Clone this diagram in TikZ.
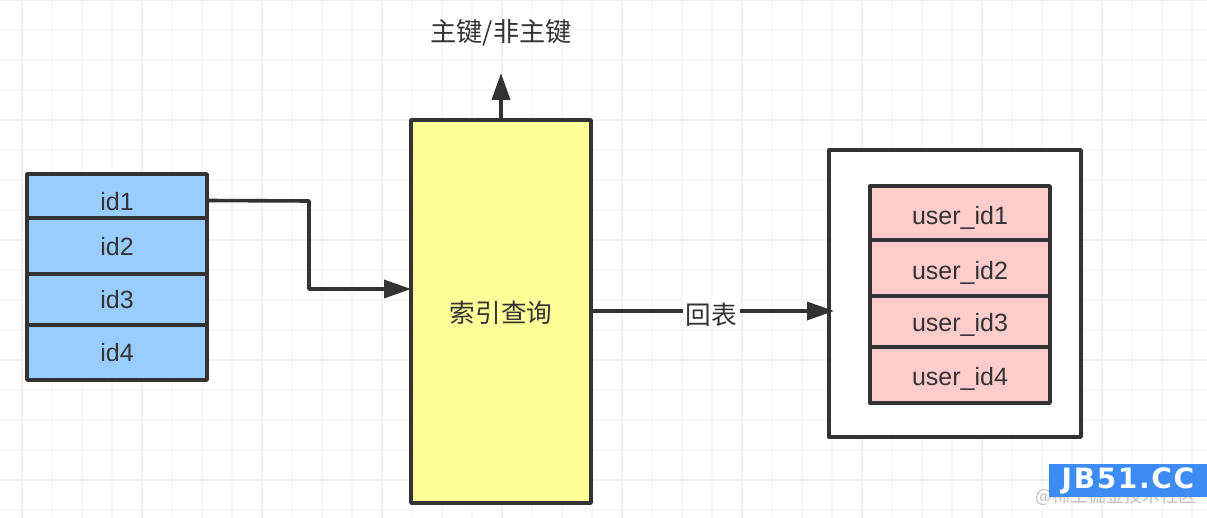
\documentclass[tikz,border=0pt]{standalone}
\usepackage{fontspec}
\setmainfont{Liberation Sans}
\newfontfamily\cjk{Noto Sans CJK SC}
\newfontfamily\wmfont[LetterSpace=6]{DejaVu Sans}
\usetikzlibrary{arrows.meta,calc}
\definecolor{ink}{HTML}{333333}
\definecolor{cellblue}{HTML}{99CCFF}
\definecolor{cellpink}{HTML}{FFCCCC}
\definecolor{midyellow}{HTML}{FFFF99}
\definecolor{gridminor}{HTML}{F7F7F7}
\definecolor{gridmajor}{HTML}{F0F0F0}
\definecolor{wmblue}{HTML}{3D8BF5}
\tikzset{
  x=1pt,y=-1pt,
  cell/.style={draw=ink,line width=3.4pt,line join=round,inner sep=0pt,outer sep=0pt,text=ink,font=\fontsize{25}{25}\selectfont,minimum width=180pt,text depth=0pt,text height=18pt},
  bluecell/.style={cell,fill=cellblue},
  pinkcell/.style={cell,fill=cellpink,text height=24pt},
  midbox/.style={draw=ink,line width=3.4pt,line join=round,fill=midyellow,inner sep=0pt,outer sep=0pt,minimum width=180pt,minimum height=383pt,text=ink,font=\cjk\fontsize{25.6}{26}\selectfont,text height=22pt,text depth=0pt},
  outerbox/.style={draw=ink,line width=3.4pt,line join=round,fill=white,inner sep=0pt,outer sep=0pt,minimum width=252pt,minimum height=287pt},
  conn/.style={draw=ink,line width=3.6pt,line join=round,-{Triangle[length=27pt,width=18pt]}},
  cjklabel/.style={text=ink,inner sep=0pt,font=\cjk\fontsize{26.2}{27}\selectfont},
}
\begin{document}
\begin{tikzpicture}
\useasboundingbox (0,0) rectangle (1207,518);
\fill[white] (0,0) rectangle (1207,518);
% grid
\foreach \gx in {22,52,...,1207} \draw[gridminor,line width=1.5pt] (\gx,0) -- (\gx,518);
\foreach \gy in {0,30,...,518} \draw[gridminor,line width=1.5pt] (0,\gy) -- (1207,\gy);
\foreach \gx in {22,142,...,1207} \draw[gridmajor,line width=2.5pt] (\gx,0) -- (\gx,518);
\foreach \gy in {0,120,...,518} \draw[gridmajor,line width=2.5pt] (0,\gy) -- (1207,\gy);
% left stack
\node[bluecell,minimum height=44pt,text height=30pt] (id1) at (117,196) {id1};
\node[bluecell,minimum height=56pt,text height=20pt] (id2) at (117,246) {id2};
\node[bluecell,minimum height=51pt] (id3) at (117,299.5) {id3};
\node[bluecell,minimum height=55pt] (id4) at (117,352.5) {id4};
% middle
\node[midbox] (query) at (501,311.5) {索引查询};
% right
\node[outerbox] (table) at (955,293.5) {};
\node[pinkcell,minimum height=54pt] (u1) at (960,213) {user\_id1};
\node[pinkcell,minimum height=56pt] (u2) at (960,268) {user\_id2};
\node[pinkcell,minimum height=51pt,text height=20pt] (u3) at (960,321.5) {user\_id3};
\node[pinkcell,minimum height=56pt,text height=20pt] (u4) at (960,375) {user\_id4};
% top label
\node[cjklabel] (top) at (501,33) {主键/非主键};
\coordinate (topend) at (501,73);
\coordinate (bend) at (309,201);
\coordinate (bendb) at (309,289);
\coordinate (retend) at (834,311);
% connectors
\draw[conn] (query.north) -- (topend);
\draw[conn] (id1.east |- 0,200.5) -- (bend) -- (bendb) -- (query.west |- bendb);
\draw[conn] (query.east |- retend) -- (retend) node[pos=0.495,fill=white,inner sep=0pt,minimum width=57pt,minimum height=26pt,text=ink,font=\cjk\fontsize{25.6}{26}\selectfont,text height=27pt,text depth=0pt] (back) {回表};
% watermark
\node[text=black!25,inner sep=0pt,anchor=east,font=\cjk\fontsize{18}{18}\selectfont] (wmtext) at (1197,496) {@稀土掘金技术社区};
\node[fill=wmblue,text=white,inner sep=0pt,minimum width=158pt,minimum height=33pt,font=\wmfont\bfseries\fontsize{28}{28}\selectfont] (wm) at (1128,480.5) {JB51.CC};
\end{tikzpicture}
\end{document}
